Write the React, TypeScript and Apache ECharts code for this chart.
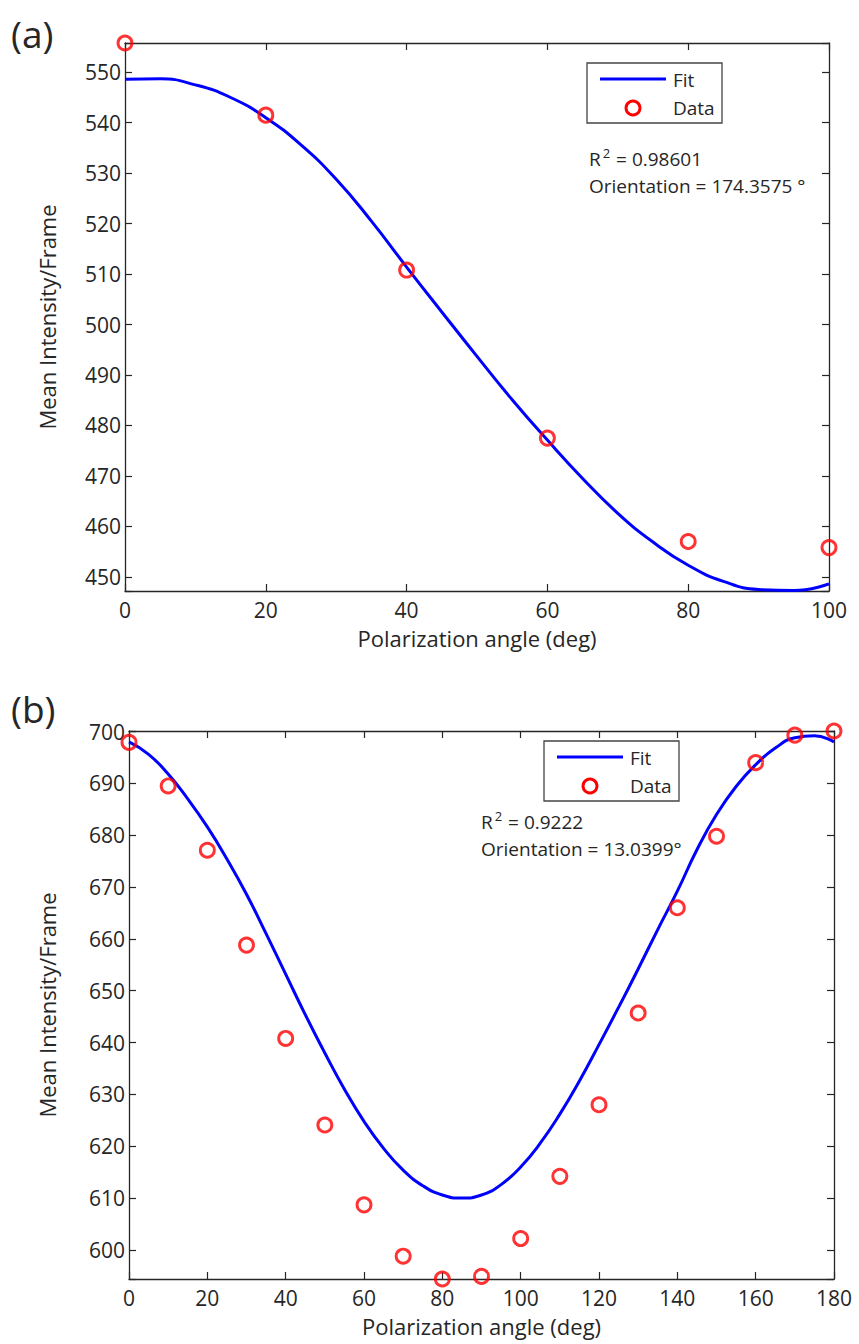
import React, { useEffect, useRef } from "react";
import * as echarts from "echarts";

// ---------- Panel (a) ----------
const dataAngleA = [0, 20, 40, 60, 80, 100];
const dataA = [555.8, 541.5, 510.8, 477.5, 457.0, 455.8];
const fitAngleA = [0, 5, 10, 15, 20, 25, 30, 35, 40, 45, 50, 55, 60, 65, 70, 75, 80, 85, 90, 95, 100];
const fitA = [548.6, 548.7, 547.5, 545.0, 541.0, 535.6, 528.8, 520.5, 511.4, 502.5, 493.7, 485.1, 477.1, 469.5, 462.6, 456.9, 452.3, 449.1, 447.5, 447.3, 448.6];
const yRangeA = [447.2, 555.8];
const xRangeA = [0, 100];

// ---------- Panel (b) ----------
const dataAngleB = [0, 10, 20, 30, 40, 50, 60, 70, 80, 90, 100, 110, 120, 130, 140, 150, 160, 170, 180];
const dataB = [697.9, 689.5, 677.1, 658.8, 640.8, 624.1, 608.7, 598.8, 594.4, 594.9, 602.2, 614.2, 628.0, 645.7, 666.0, 679.8, 694.0, 699.3, 700.1];
const fitAngleB = [0, 5, 10, 15, 20, 25, 30, 35, 40, 45, 50, 55, 60, 65, 70, 75, 80, 85, 90, 95, 100, 105, 110, 115, 120, 125, 130, 135, 140, 145, 150, 155, 160, 165, 170, 175, 180];
const fitB = [698.0, 695.6, 691.8, 687.0, 681.6, 675.4, 668.6, 661.0, 653.2, 645.4, 638.0, 631.0, 624.8, 619.6, 615.4, 612.4, 610.6, 610.0, 610.6, 612.6, 616.0, 620.6, 626.2, 632.6, 639.6, 646.8, 654.2, 661.8, 669.2, 677.2, 684.0, 689.4, 693.6, 696.8, 698.8, 699.2, 698.0];
const yRangeB = [594.4, 700.1];
const xRangeB = [0, 180];

const xLabel = "Polarization angle (deg)";
const yLabel = "Mean Intensity/Frame";

const FONT = "Open Sans";
const TXT = "#262626";
const AX = "#262626";

function pairs(xs: number[], ys: number[]) {
  return xs.map((x, i) => [x, ys[i]]);
}

export default function App() {
  const ref = useRef<HTMLDivElement>(null);
  useEffect(() => {
    if (!ref.current) return;
    const chart = echarts.init(ref.current, undefined, { renderer: "svg" });

    const axisLine = { show: true, onZero: false, lineStyle: { color: AX, width: 1.3 } };
    const tickIn = { show: true, inside: true, length: 7, lineStyle: { color: AX, width: 1.2 } };

    const xAx = (grid: number, range: number[], pos: "top" | "bottom") => ({
      type: "value",
      gridIndex: grid,
      position: pos,
      min: range[0],
      max: range[1],
      interval: 20,
      axisLine,
      axisTick: tickIn,
      splitLine: { show: false },
      axisLabel:
        pos === "bottom"
          ? { show: true, color: TXT, fontFamily: FONT, fontSize: 21, margin: 8 }
          : { show: false },
      name: pos === "bottom" ? xLabel : "",
      nameLocation: "middle",
      nameGap: 36,
      nameTextStyle: { color: TXT, fontFamily: FONT, fontSize: 22 },
    });

    const yAx = (grid: number, range: number[], pos: "left" | "right", gap: number) => ({
      type: "value",
      gridIndex: grid,
      position: pos,
      min: range[0],
      max: range[1],
      minInterval: 10,
      maxInterval: 10,
      splitNumber: 10,
      axisLine,
      axisTick: tickIn,
      splitLine: { show: false },
      axisLabel:
        pos === "left"
          ? {
              show: true,
              color: TXT,
              fontFamily: FONT,
              fontSize: 21,
              margin: 4,
              formatter: (v: number) => (Math.abs(v - Math.round(v / 10) * 10) < 1e-6 ? String(Math.round(v)) : ""),
            }
          : { show: false },
      name: pos === "left" ? yLabel : "",
      nameLocation: "middle",
      nameGap: gap,
      nameRotate: 90,
      nameTextStyle: { color: TXT, fontFamily: FONT, fontSize: 22 },
    });

    const scatterStyle = {
      symbol: "circle",
      symbolSize: 14,
      itemStyle: { color: "rgba(0,0,0,0)", borderColor: "#ff0000", borderWidth: 2.9 },
    };

    const legendText = (x: number, y: number, t: string) => ({
      type: "text",
      x,
      y,
      style: { text: t, fill: TXT, font: `19px "${FONT}"`, verticalAlign: "middle" },
      z: 110,
    });

    const legend = (bx: number, by: number) => [
      {
        type: "rect",
        shape: { x: bx, y: by, width: 135, height: 60 },
        style: { fill: "#ffffff", stroke: "#444444", lineWidth: 1.3 },
        z: 100,
      },
      {
        type: "line",
        shape: { x1: bx + 13, y1: by + 16, x2: bx + 79, y2: by + 16 },
        style: { stroke: "#0000ff", lineWidth: 3 },
        z: 110,
      },
      legendText(bx + 86, by + 17, "Fit"),
      {
        type: "circle",
        shape: { cx: bx + 46, cy: by + 45, r: 7 },
        style: { fill: "none", stroke: "#ff0000", lineWidth: 2.9 },
        z: 110,
      },
      legendText(bx + 86, by + 45, "Data"),
    ];

    const annot = (x: number, y: number, r2: string, orient: string) => [
      {
        type: "text",
        x,
        y,
        style: {
          text: `R{s|2} = ${r2}`,
          fill: TXT,
          font: `19px "${FONT}"`,
          verticalAlign: "middle",
          rich: {
            s: { fontSize: 13, fontFamily: FONT, fill: TXT, padding: [0, 1, 12, 2] },
          },
        },
        z: 110,
      },
      {
        type: "text",
        x,
        y: y + 27,
        style: { text: `Orientation = ${orient}`, fill: TXT, font: `19px "${FONT}"`, verticalAlign: "middle" },
        z: 110,
      },
    ];

    const fitLine = (xi: number, yi: number, d: number[][]) => ({
      type: "line",
      xAxisIndex: xi,
      yAxisIndex: yi,
      data: d,
      smooth: true,
      showSymbol: false,
      lineStyle: { color: "#0000ff", width: 3 },
      z: 2,
    });

    chart.setOption({
      animation: false,
      backgroundColor: "#ffffff",
      grid: [
        { left: 125, top: 43, width: 704, height: 548, containLabel: false },
        { left: 129, top: 731, width: 705, height: 548, containLabel: false },
      ],
      xAxis: [
        xAx(0, xRangeA, "bottom"),
        xAx(0, xRangeA, "top"),
        xAx(1, xRangeB, "bottom"),
        xAx(1, xRangeB, "top"),
      ],
      yAxis: [
        yAx(0, yRangeA, "left", 67),
        yAx(0, yRangeA, "right", 0),
        yAx(1, yRangeB, "left", 71),
        yAx(1, yRangeB, "right", 0),
      ],
      series: [
        fitLine(0, 0, pairs(fitAngleA, fitA)),
        {
          type: "scatter",
          xAxisIndex: 0,
          yAxisIndex: 0,
          data: pairs(dataAngleA, dataA),
          clip: false,
          z: 3,
          ...scatterStyle,
        },
        fitLine(2, 2, pairs(fitAngleB, fitB)),
        {
          type: "scatter",
          xAxisIndex: 2,
          yAxisIndex: 2,
          data: pairs(dataAngleB, dataB),
          clip: false,
          z: 3,
          ...scatterStyle,
        },
      ],
      graphic: [
        {
          type: "text",
          x: 11,
          y: 33,
          style: { text: "(a)", fill: TXT, font: `37px "${FONT}"`, verticalAlign: "middle" },
        },
        {
          type: "text",
          x: 11,
          y: 708,
          style: { text: "(b)", fill: TXT, font: `37px "${FONT}"`, verticalAlign: "middle" },
        },
        ...legend(587, 63),
        ...legend(544, 741),
        ...annot(589, 159, "0.98601", "174.3575 °"),
        ...annot(481, 822, "0.9222", "13.0399°"),
      ],
    });
    return () => chart.dispose();
  }, []);
  return (
    <div
      ref={ref}
      style={{ position: "fixed", left: 0, top: 0, width: 859, height: 1344, background: "#fff" }}
    />
  );
}
